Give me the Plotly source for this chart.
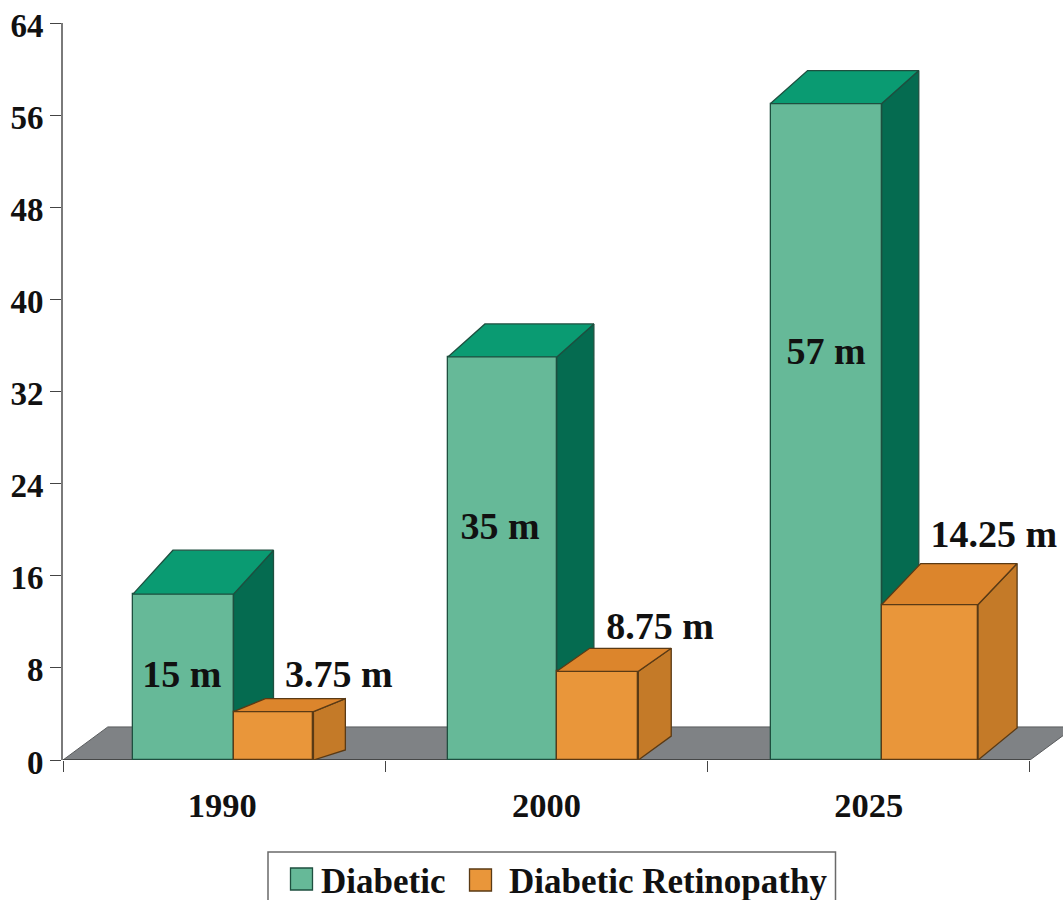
import plotly.graph_objects as go

# ---- data ----
years = ["1990", "2000", "2025"]
series_names = ["Diabetic", "Diabetic Retinopathy"]
diabetic_heights = [14.4, 35.0, 57.0]
retinopathy_heights = [4.2, 7.7, 13.5]
diabetic_labels = ["15 m", "35 m", "57 m"]
retinopathy_labels = ["3.75 m", "8.75 m", "14.25 m"]
y_ticks = [0, 8, 16, 24, 32, 40, 48, 56, 64]

# ---- layout of the pseudo-3D boxes, in axis units (band = 1 category) ----
green_left = [0.217, 1.194, 2.195]
split = [0.529, 1.532, 2.540]
orange_right = [0.777, 1.785, 2.839]
green_dx = [0.124, 0.115, 0.115]
green_dy = [3.82, 2.87, 2.87]
orange_dx = [0.099, 0.102, 0.121]
orange_dy = [1.13, 2.0, 3.56]
orange_dy_bottom = [0.87, 2.08, 2.78]
floor_dx, floor_dy = 0.139, 2.87
green_label_pos = [(0.369, 7.2), (1.356, 20.0), (2.367, 35.25)]
orange_label_pos = [(0.856, 7.15), (1.852, 11.3), (2.888, 19.35)]
year_tick_pos = [0.494, 1.5, 2.5]

SERIF = "Liberation Serif"
INK = "#111111"
GREEN = dict(front="#66B998", top="#0A9B72", side="#056B50", edge="#1E4F3F")
ORANGE = dict(front="#E9963A", top="#DC852C", side="#C47A28", edge="#5A3A15")
W, H = 1063, 900
M_LEFT, M_TOP, M_BOTTOM = 63, 23, 140

fig = go.Figure()


def poly(xs, ys, fill, edge, axes):
    fig.add_trace(go.Scatter(
        x=xs + xs[:1], y=ys + ys[:1], mode="lines", fill="toself", fillcolor=fill,
        line=dict(color=edge, width=1.3), hoverinfo="skip", showlegend=False,
        xaxis=axes[0], yaxis=axes[1]))


# Diabetic boxes (base subplot)
fig.add_trace(go.Bar(
    name=series_names[0], x=[(l + r) / 2 for l, r in zip(green_left, split)],
    width=[r - l for l, r in zip(green_left, split)], y=diabetic_heights, showlegend=False,
    marker=dict(color=GREEN["front"], line=dict(color=GREEN["edge"], width=1.3))))
for l, r, h, dx, dy in zip(green_left, split, diabetic_heights, green_dx, green_dy):
    poly([r, r + dx, r + dx, r], [0, dy, h + dy, h], GREEN["side"], GREEN["edge"], ("x", "y"))
    poly([l, r, r + dx, l + dx], [h, h, h + dy, h + dy], GREEN["top"], GREEN["edge"], ("x", "y"))

# Retinopathy boxes (overlaid subplot so they sit in front of the green ones)
fig.add_trace(go.Bar(
    name=series_names[1], x=[(l + r) / 2 for l, r in zip(split, orange_right)],
    width=[r - l for l, r in zip(split, orange_right)], y=retinopathy_heights, showlegend=False,
    marker=dict(color=ORANGE["front"], line=dict(color=ORANGE["edge"], width=1.3)),
    xaxis="x2", yaxis="y2"))
for l, r, h, dx, dy, dyb in zip(split, orange_right, retinopathy_heights, orange_dx, orange_dy, orange_dy_bottom):
    poly([r, r + dx, r + dx, r], [0, dyb, h + dy, h], ORANGE["side"], ORANGE["edge"], ("x2", "y2"))
    poly([l, r, r + dx, l + dx], [h, h, h + dy, h + dy], ORANGE["top"], ORANGE["edge"], ("x2", "y2"))

# Value labels
labels = diabetic_labels + retinopathy_labels
positions = green_label_pos + orange_label_pos
fig.add_trace(go.Scatter(
    x=[p[0] for p in positions], y=[p[1] for p in positions], text=labels, mode="text",
    textposition="middle center", cliponaxis=False, showlegend=False, hoverinfo="skip",
    textfont=dict(family=SERIF, size=38, color=INK, weight="bold"),
    xaxis="x2", yaxis="y2"))


# Drawn legend: the swatches are larger than the fixed ones of a native legend.
# Paper coordinates span the plot area, so page pixels are converted to it.
def px(v):
    return (v - M_LEFT) / (W - M_LEFT)


def py(v):
    return (H - M_BOTTOM - v) / (H - M_BOTTOM - M_TOP)


legend_shapes = [
    dict(type="rect", xref="paper", yref="paper", x0=px(268), x1=px(835.5), y0=py(906), y1=py(852),
         fillcolor="white", line=dict(color="#6A6A6A", width=1.5)),
    dict(type="rect", xref="paper", yref="paper", x0=px(290.5), x1=px(312.5), y0=py(890), y1=py(868),
         fillcolor=GREEN["front"], line=dict(color=GREEN["edge"], width=1.3)),
    dict(type="rect", xref="paper", yref="paper", x0=px(469.5), x1=px(491.5), y0=py(891), y1=py(869),
         fillcolor=ORANGE["front"], line=dict(color=ORANGE["edge"], width=1.3)),
]
legend_texts = [
    dict(text=name, xref="paper", yref="paper", x=px(x0), y=py(881), xanchor="left", yanchor="middle",
         showarrow=False, xshift=-1, font=dict(family=SERIF, size=35, color=INK, weight="bold"))
    for name, x0 in zip(series_names, (320, 508))
]

n = len(years)
x_range = [0, (W - M_LEFT) / 322.33]
fig.update_layout(
    width=W, height=H, autosize=False,
    margin=dict(l=M_LEFT, r=0, t=M_TOP, b=M_BOTTOM, autoexpand=False),
    paper_bgcolor="white", plot_bgcolor="white",
    barmode="overlay", bargap=0,
    showlegend=False,
    xaxis=dict(
        range=x_range, showgrid=False, zeroline=False, showline=False,
        tickmode="array", tickvals=year_tick_pos, ticktext=years,
        ticks="outside", ticklen=15, tickcolor="rgba(0,0,0,0)",
        tickfont=dict(family=SERIF, size=34.5, color=INK, weight="bold"),
        minor=dict(tickmode="array", tickvals=list(range(n + 1)), ticks="outside",
                   ticklen=11, tickcolor="#444444", tickwidth=1)),
    yaxis=dict(
        range=[0, 64], showgrid=False, zeroline=False, showline=True, linecolor="#7A7A7A",
        linewidth=2, tickmode="array", tickvals=y_ticks, ticks="outside", ticklen=11,
        tickcolor="#444444", tickwidth=1, ticklabelshift=2,
        tickfont=dict(family=SERIF, size=33, color=INK, weight="bold")),
    xaxis2=dict(range=x_range, overlaying="x", visible=False),
    yaxis2=dict(range=[0, 64], overlaying="y", visible=False),
    shapes=[
        dict(type="path", layer="below", xref="x", yref="y",
             path=f"M 0 0 L {n} 0 L {n + floor_dx} {floor_dy} L {floor_dx} {floor_dy} Z",
             fillcolor="#7F8285", line=dict(color="#5A5C5E", width=1)),
        dict(type="line", layer="below", xref="x", yref="y", x0=0, x1=n, y0=0, y1=0,
             line=dict(color="#3A3A3A", width=1.5)),
    ] + legend_shapes,
    annotations=legend_texts,
)

fig.write_html("out.html", config=dict(displayModeBar=False),
               post_script="document.body.style.margin='0';")
